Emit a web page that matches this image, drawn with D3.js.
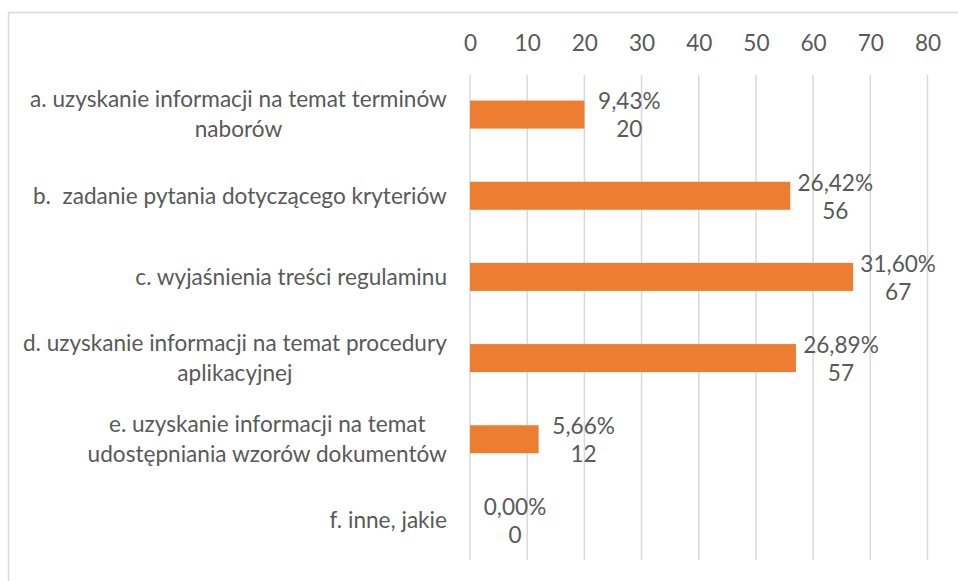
<!DOCTYPE html>
<html>
<head>
<meta charset="utf-8">
<script src="https://cdnjs.cloudflare.com/ajax/libs/d3/7.8.5/d3.min.js"></script>
<style>
  html, body { margin: 0; padding: 0; background: #fff; }
  svg text { font-family: Lato, "Open Sans", sans-serif; fill: #595959; white-space: pre; }
</style>
</head>
<body>
<div id="chart"></div>
<script>
// category labels (already wrapped like in the source chart)
const categories = [
    ["a. uzyskanie informacji na temat terminów", "naborów"],
    ["b.  zadanie pytania dotyczącego kryteriów"],
    ["c. wyjaśnienia treści regulaminu"],
    ["d. uzyskanie informacji na temat procedury", "aplikacyjnej"],
    ["e. uzyskanie informacji na temat", "udostępniania wzorów dokumentów"],
    ["f. inne, jakie"]
];
const counts = [20, 56, 67, 57, 12, 0];
const percents = [9.43, 26.42, 31.60, 26.89, 5.66, 0.00];
const ticks = [0, 10, 20, 30, 40, 50, 60, 70, 80];

const width = 958, height = 581;
const fontSize = 22.6;

const svg = d3.select("#chart").append("svg")
    .attr("width", width)
    .attr("height", height);

// outer chart frame (only top and left edges are visible in the crop)
svg.append("path")
    .attr("d", `M8.5,${height} L8.5,12.5 L${width},12.5`)
    .attr("fill", "none")
    .attr("stroke", "#d9d9d9")
    .attr("stroke-width", 1.5);

const x = d3.scaleLinear().domain([0, 80]).range([470, 927.5]);
const y = d3.scaleBand()
    .domain(d3.range(categories.length))
    .range([74, 561])
    .paddingInner(0.655)
    .paddingOuter(0.3275);

// gridlines
svg.append("g").selectAll("line")
    .data(ticks)
    .join("line")
    .attr("x1", d => x(d)).attr("x2", d => x(d))
    .attr("y1", 75).attr("y2", 560)
    .attr("stroke", "#d9d9d9")
    .attr("stroke-width", 1.5);

// top axis
const axis = svg.append("g")
    .attr("transform", "translate(0,51)")
    .call(d3.axisTop(x).tickValues(ticks).tickSize(0).tickPadding(0));
axis.select(".domain").remove();
axis.selectAll("text")
    .style("font-family", "Lato, 'Open Sans', sans-serif")
    .style("font-size", fontSize + "px")
    .attr("fill", "#595959");

// bars
svg.append("g").selectAll("rect")
    .data(counts)
    .join("rect")
    .attr("x", x(0))
    .attr("y", (d, i) => y(i))
    .attr("width", d => x(d) - x(0))
    .attr("height", y.bandwidth())
    .attr("fill", "#ed7d31");

// category labels: centred lines, block right-aligned at 447
const lineH = 30;
categories.forEach((lines, i) => {
    const cy = y(i) + y.bandwidth() / 2;
    const t = svg.append("text")
        .attr("font-size", fontSize)
        .attr("text-anchor", "middle");
    lines.forEach((s, k) => {
        t.append("tspan")
            .attr("x", 0)
            .attr("y", cy + (k - (lines.length - 1) / 2) * lineH)
            .attr("dy", "0.35em")
            .text(s);
    });
    const w = t.node().getBBox().width;
    t.selectAll("tspan").attr("x", 447 - w / 2);
});

// data labels: percent above, count below
const pctFmt = d3.formatLocale({ decimal: ",", thousands: " ", grouping: [3], currency: ["", ""] }).format(".2f");
counts.forEach((d, i) => {
    const cy = y(i) + y.bandwidth() / 2;
    const t = svg.append("text")
        .attr("font-size", fontSize)
        .attr("text-anchor", "middle");
    t.append("tspan")
        .attr("x", x(d) + 45)
        .attr("y", cy - 13)
        .attr("dy", "0.35em")
        .text(pctFmt(percents[i]) + "%");
    t.append("tspan")
        .attr("x", x(d) + 45)
        .attr("y", cy + 15)
        .attr("dy", "0.35em")
        .text(d);
});
</script>
</body>
</html>
